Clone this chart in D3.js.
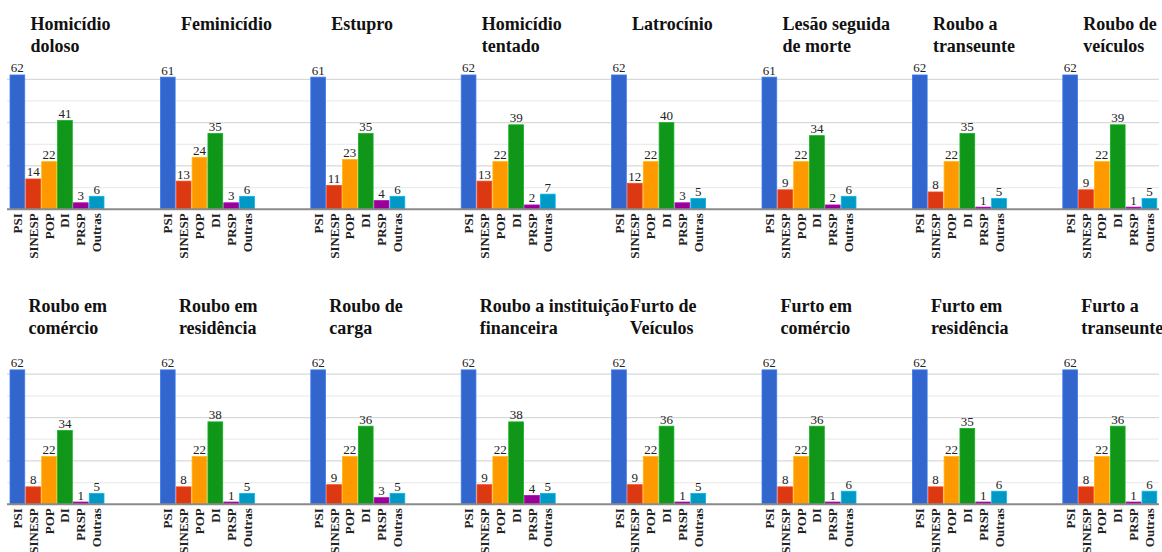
<!DOCTYPE html>
<html>
<head>
<meta charset="utf-8">
<script src="https://cdn.jsdelivr.net/npm/d3@7/dist/d3.min.js"></script>
<style>
  html, body { margin: 0; padding: 0; background: #fff; }
  svg { display: block; }
  svg text { font-family: "Liberation Serif", "Tinos", "Times New Roman", "DejaVu Serif", serif; }
</style>
</head>
<body>
<svg id="chart" width="1162" height="552"></svg>
<script>
// Categories shown in every panel
const categories = ["PSI", "SINESP", "POP", "DI", "PRSP", "Outras"];

// Panel titles (line breaks as drawn)
const titles = [
  ["Homicídio", "doloso"], ["Feminicídio"], ["Estupro"], ["Homicídio", "tentado"],
  ["Latrocínio"], ["Lesão seguida", "de morte"], ["Roubo a", "transeunte"], ["Roubo de", "veículos"],
  ["Roubo em", "comércio"], ["Roubo em", "residência"], ["Roubo de", "carga"], ["Roubo a instituição", "financeira"],
  ["Furto de", "Veículos"], ["Furto em", "comércio"], ["Furto em", "residência"], ["Furto a", "transeunte"]
];

// Series values, one entry per panel (same order as titles)
const psi    = [62, 61, 61, 62, 62, 61, 62, 62, 62, 62, 62, 62, 62, 62, 62, 62];
const sinesp = [14, 13, 11, 13, 12,  9,  8,  9,  8,  8,  9,  9,  9,  8,  8,  8];
const pop    = [22, 24, 23, 22, 22, 22, 22, 22, 22, 22, 22, 22, 22, 22, 22, 22];
const di     = [41, 35, 35, 39, 40, 34, 35, 39, 34, 38, 36, 38, 36, 36, 35, 36];
const prsp   = [ 3,  3,  4,  2,  3,  2,  1,  1,  1,  1,  3,  4,  1,  1,  1,  1];
const outras = [ 6,  6,  6,  7,  5,  6,  5,  5,  5,  5,  5,  5,  5,  6,  6,  6];

// Gridline values
const gridTicks = [10, 20, 30, 40, 50, 60];

const series = [psi, sinesp, pop, di, prsp, outras];
const colors = ["#3366cc", "#dc3912", "#ff9900", "#109618", "#990099", "#0099c6"];
const color = d3.scaleOrdinal().domain(categories).range(colors);

const svg = d3.select("#chart");
const serif = "\"Liberation Serif\", Tinos, \"Times New Roman\", \"DejaVu Serif\", serif";

const perRow = 8;
const step = 150.4;
const rows = [
  { base: 209.3, titleY: 29.5, titleDx: 20.5 },
  { base: 504.2, titleY: 312, titleDx: 18.5 }
];

rows.forEach((row, r) => {
  const y = d3.scaleLinear().domain([0, 60]).range([row.base, row.base - 130]);
  const g = svg.append("g");

  // Horizontal gridlines across the whole row
  g.selectAll("line.grid")
    .data(gridTicks)
    .join("line")
    .attr("x1", 7).attr("x2", 1159)
    .attr("y1", d => y(d)).attr("y2", d => y(d))
    .attr("stroke", d => d % 20 === 0 ? "#d9d9d9" : "#ececec")
    .attr("stroke-width", 1.2);

  for (let c = 0; c < perRow; c++) {
    const p = r * perRow + c;
    const x0 = 10 + c * step;
    const x = d3.scaleBand().domain(categories).range([x0, x0 + 94]).paddingInner(0.07).paddingOuter(0);
    const data = categories.map((k, i) => ({ k, v: series[i][p] }));
    const pg = g.append("g");

    pg.selectAll("rect")
      .data(data)
      .join("rect")
      .attr("x", d => x(d.k))
      .attr("width", x.bandwidth())
      .attr("y", d => y(d.v))
      .attr("height", d => row.base - y(d.v))
      .attr("fill", d => color(d.k))
      .attr("stroke", d => d3.color(color(d.k)).brighter(0.5))
      .attr("stroke-width", 0.8);

    pg.selectAll("text.val")
      .data(data)
      .join("text")
      .attr("class", "val")
      .attr("x", d => x(d.k) + x.bandwidth() / 2)
      .attr("y", d => y(d.v) - 2.5)
      .attr("text-anchor", "middle")
      .style("font-family", serif)
      .attr("font-size", 13)
      .attr("fill", "#222")
      .text(d => d.v);

    pg.selectAll("text.cat")
      .data(data)
      .join("text")
      .attr("class", "cat")
      .attr("transform", d => `translate(${x(d.k) + x.bandwidth() / 2},${row.base + 4}) rotate(-90)`)
      .attr("dy", "0.35em")
      .attr("text-anchor", "end")
      .style("font-family", serif)
      .attr("font-weight", "bold")
      .attr("font-size", 13)
      .attr("fill", "#222")
      .text(d => d.k);

    const t = pg.append("text")
      .attr("x", x0 + row.titleDx)
      .attr("y", row.titleY)
      .style("font-family", serif)
      .attr("font-weight", "bold")
      .attr("font-size", 18)
      .attr("fill", "#111");
    t.selectAll("tspan")
      .data(titles[p])
      .join("tspan")
      .attr("x", x0 + row.titleDx)
      .attr("dy", (d, i) => i === 0 ? 0 : 22.4)
      .text(d => d);
  }

  // Baseline axis
  g.append("line")
    .attr("x1", 7).attr("x2", 1159)
    .attr("y1", row.base).attr("y2", row.base)
    .attr("stroke", "#8a8a8a")
    .attr("stroke-width", 2);
});
</script>
</body>
</html>
